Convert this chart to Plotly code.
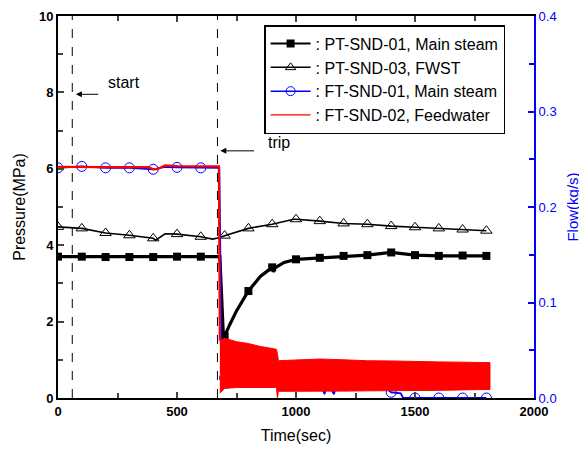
import plotly.graph_objects as go

# PT-SND-01, main steam pressure (MPa)
ms_time = [0, 100, 200, 300, 400, 500, 600, 680, 695, 700, 720, 750, 800, 850, 900, 905, 910,
           950, 1000, 1100, 1200, 1300, 1400, 1500, 1600, 1700, 1800]
ms_pres = [3.70, 3.70, 3.69, 3.69, 3.69, 3.70, 3.70, 3.70, 1.60, 1.62, 1.90, 2.28, 2.80, 3.18, 3.42, 3.30, 3.40,
           3.55, 3.63, 3.67, 3.72, 3.74, 3.81, 3.74, 3.72, 3.73, 3.72]

# PT-SND-03, FWST pressure (MPa)
fwst_time = [0, 100, 200, 300, 400, 410, 450, 500, 600, 650, 680, 700, 800, 900, 990, 1000,
             1100, 1200, 1300, 1400, 1500, 1600, 1700, 1800]
fwst_pres = [4.48, 4.44, 4.32, 4.26, 4.18, 4.13, 4.30, 4.29, 4.22, 4.16, 4.20, 4.25, 4.44, 4.55, 4.68, 4.68,
             4.63, 4.57, 4.55, 4.50, 4.47, 4.44, 4.41, 4.38]

# FT-SND-01, main steam flow (kg/s)
stm_time = [0, 100, 200, 300, 400, 450, 500, 600, 678, 688, 700, 800, 900, 1000, 1100, 1120, 1130,
            1160, 1170, 1200, 1300, 1380, 1400, 1440, 1450, 1500, 1600, 1700, 1800]
stm_flow = [0.2410, 0.2425, 0.2410, 0.2410, 0.2395, 0.2420, 0.2415, 0.2410, 0.2410, 0.022, 0.021, 0.020,
            0.019, 0.018, 0.018, 0.004, 0.016, 0.004, 0.016, 0.018, 0.018, 0.010, 0.006, 0.005, 0.0,
            0.0, 0.0, 0.0, 0.0]

# FT-SND-02, feedwater flow (kg/s): steady part, then oscillation envelope
fw_time = [0, 100, 200, 300, 380, 400, 420, 450, 500, 600, 676, 680]
fw_flow = [0.2420, 0.2422, 0.2418, 0.2418, 0.2418, 0.2395, 0.2400, 0.2435, 0.2428, 0.2425, 0.2425, 0.060]
fw_band_time = [680, 700, 750, 800, 850, 900, 918, 922, 926, 1000, 1100, 1200, 1300,
                1400, 1500, 1600, 1700, 1800, 1815]
fw_band_hi = [0.060, 0.0625, 0.059, 0.057, 0.054, 0.052, 0.051, 0.046, 0.039, 0.0398, 0.0408, 0.040, 0.039,
              0.0388, 0.038, 0.0378, 0.0375, 0.037, 0.037]
fw_band_lo = [0.005, 0.010, 0.011, 0.011, 0.011, 0.011, 0.011, 0.0, 0.007, 0.007, 0.007, 0.0072, 0.0075,
              0.0076, 0.0076, 0.008, 0.0085, 0.009, 0.009]

event_time = [60, 670]
event_label = ["start", "trip"]

marker_step = 100


def marks(t, v):
    keep = [i for i, x in enumerate(t) if x % marker_step == 0]
    return [t[i] for i in keep], [v[i] for i in keep]


BLUE = "#0000ff"
RED = "#ff0000"

fig = go.Figure()

# pressure traces (left axis)
fig.add_trace(go.Scatter(x=ms_time, y=ms_pres, mode="lines", line=dict(color="black", width=3.2),
                         showlegend=False))
mx, my = marks(ms_time, ms_pres)
fig.add_trace(go.Scatter(x=mx, y=my, mode="markers", showlegend=False,
                         marker=dict(symbol="square", size=8, color="black")))
fig.add_trace(go.Scatter(x=fwst_time, y=fwst_pres, mode="lines", line=dict(color="black", width=1.6),
                         showlegend=False))
mx, my = marks(fwst_time, fwst_pres)
fig.add_trace(go.Scatter(x=mx, y=my, mode="markers", showlegend=False,
                         marker=dict(symbol="triangle-up-open", size=10, color="black",
                                     line=dict(width=1))))

# flow traces (right axis)
fig.add_trace(go.Scatter(x=stm_time, y=stm_flow, mode="lines", yaxis="y2",
                         line=dict(color=BLUE, width=1.8), showlegend=False))
mx, my = marks(stm_time, stm_flow)
fig.add_trace(go.Scatter(x=mx, y=my, mode="markers", yaxis="y2", showlegend=False,
                         marker=dict(symbol="circle-open", size=10, color=BLUE, line=dict(width=1))))
fig.add_trace(go.Scatter(x=fw_time, y=fw_flow, mode="lines", yaxis="y2",
                         line=dict(color=RED, width=2.2), showlegend=False))
fig.add_trace(go.Scatter(x=fw_band_time + fw_band_time[::-1], y=fw_band_hi + fw_band_lo[::-1],
                         mode="lines", yaxis="y2", fill="toself", fillcolor=RED,
                         line=dict(color=RED, width=1), showlegend=False))

# legend entries
fig.add_trace(go.Scatter(x=[None], y=[None], mode="lines+markers", name=": PT-SND-01, Main steam",
                         line=dict(color="black", width=2),
                         marker=dict(symbol="square", size=8, color="black")))
fig.add_trace(go.Scatter(x=[None], y=[None], mode="lines+markers", name=": PT-SND-03, FWST",
                         line=dict(color="black", width=1.5),
                         marker=dict(symbol="triangle-up-open", size=9, color="black")))
fig.add_trace(go.Scatter(x=[None], y=[None], mode="lines+markers", name=": FT-SND-01, Main steam",
                         line=dict(color=BLUE, width=1.5),
                         marker=dict(symbol="circle-open", size=9, color=BLUE)))
fig.add_trace(go.Scatter(x=[None], y=[None], mode="lines", name=": FT-SND-02, Feedwater",
                         line=dict(color=RED, width=1.2)))

# event markers
for t in event_time:
    fig.add_shape(type="line", x0=t, x1=t, y0=0, y1=1, xref="x", yref="paper",
                  line=dict(color="black", width=1, dash="dash"))
fig.add_annotation(x=event_time[0] + 15, y=7.95, ax=event_time[0] + 115, ay=7.95,
                   xref="x", yref="y", axref="x", ayref="y", text="", showarrow=True,
                   arrowhead=2, arrowsize=1.2, arrowwidth=1, arrowcolor="black")
fig.add_annotation(x=203, y=8.25, text=event_label[0], showarrow=False, xanchor="left",
                   font=dict(size=16, color="black"))
fig.add_annotation(x=event_time[1] + 12, y=6.47, ax=event_time[1] + 160, ay=6.47,
                   xref="x", yref="y", axref="x", ayref="y", text="", showarrow=True,
                   arrowhead=2, arrowsize=1.2, arrowwidth=1, arrowcolor="black")
fig.add_annotation(x=873, y=6.68, text=event_label[1], showarrow=False, xanchor="left",
                   font=dict(size=16, color="black"))

# page body has an 8px margin, so the figure is 8px smaller than the window
fig.update_layout(
    width=579, height=441,
    margin=dict(l=50, r=53, t=8, b=51),
    plot_bgcolor="white", paper_bgcolor="white",
    font=dict(family="Arial, Liberation Sans, sans-serif", size=13, color="black"),
    xaxis=dict(range=[0, 2000], dtick=500, ticks="inside", ticklen=6, tickwidth=1.5,
               minor=dict(dtick=250, ticks="inside", ticklen=5, tickwidth=1.5),
               showline=True, linecolor="black", linewidth=2, mirror="ticks",
               showgrid=False, zeroline=False, automargin=False,
               tickprefix="<b>", ticksuffix="</b>", tickfont=dict(size=13),
               title=dict(text="Time(sec)", font=dict(size=16), standoff=12)),
    yaxis=dict(range=[0, 10], dtick=2, ticks="inside", ticklen=6, tickwidth=1.5,
               minor=dict(dtick=1, ticks="inside", ticklen=5, tickwidth=1.5),
               showline=True, linecolor="black", linewidth=2,
               showgrid=False, zeroline=False, automargin=False,
               tickprefix="<b>", ticksuffix="</b>", tickfont=dict(size=13),
               title=dict(text="Pressure(MPa)", font=dict(size=16), standoff=9)),
    yaxis2=dict(range=[0, 0.4], dtick=0.1, tickformat=".1f", overlaying="y", side="right",
                ticks="inside", ticklen=6, tickwidth=1.5, tickcolor=BLUE,
                minor=dict(dtick=0.05, ticks="inside", ticklen=5, tickwidth=1.5, tickcolor=BLUE),
                showline=True, linecolor=BLUE, linewidth=2,
                showgrid=False, zeroline=False, automargin=False,
                tickfont=dict(size=13, color=BLUE),
                title=dict(text="Flow(kg/s)", font=dict(size=15, color=BLUE), standoff=12)),
    legend=dict(x=0.433, y=0.976, xanchor="left", yanchor="top",
                bgcolor="white", bordercolor="black", borderwidth=1.5,
                font=dict(size=16), itemwidth=40, tracegroupgap=0),
)

fig.write_html("out.html")
